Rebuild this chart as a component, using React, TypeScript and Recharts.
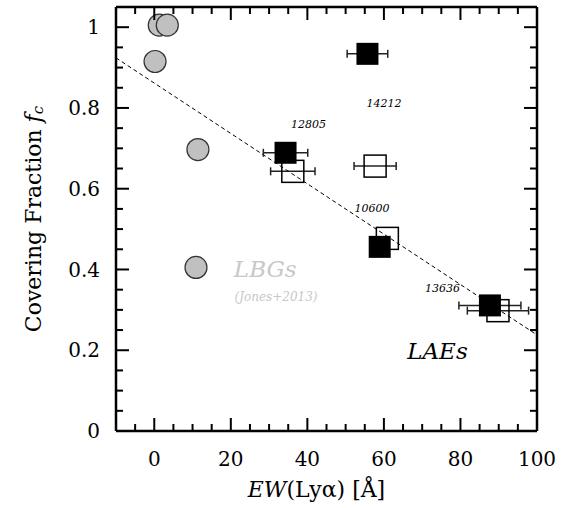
import {
  ScatterChart,
  Scatter,
  XAxis,
  YAxis,
  ErrorBar,
  ReferenceLine,
  Label,
} from 'recharts';

// LBGs from Jones+2013 (grey circles)
const lbgPoints = [
  { ew: 1.3, fc: 1.005 },
  { ew: 3.4, fc: 1.005 },
  { ew: 0.2, fc: 0.915 },
  { ew: 11.4, fc: 0.697 },
  { ew: 10.9, fc: 0.405 },
];

// LAEs, filled squares (ewErr 0 = no bar drawn)
const laeFilled = [
  { id: '14212', ew: 55.7, fc: 0.934, ewErr: 5.3 },
  { id: '12805', ew: 34.3, fc: 0.689, ewErr: 5.8 },
  { id: '10600', ew: 58.9, fc: 0.456, ewErr: 0 },
  { id: '13636', ew: 87.7, fc: 0.311, ewErr: 8.1 },
];

// LAEs, open squares
const laeOpen = [
  { id: '14212', ew: 57.7, fc: 0.656, ewErr: 5.5 },
  { id: '12805', ew: 36.2, fc: 0.643, ewErr: 5.8 },
  { id: '10600', ew: 60.9, fc: 0.477, ewErr: 0 },
  { id: '13636', ew: 89.8, fc: 0.298, ewErr: 8.0 },
];

// dashed linear fit, end points
const fitLine = [
  { ew: -10, fc: 0.924 },
  { ew: 100, fc: 0.238 },
];

const idLabels = [
  { text: '12805', ew: 40.3, fc: 0.76 },
  { text: '14212', ew: 60.0, fc: 0.812 },
  { text: '10600', ew: 56.9, fc: 0.551 },
  { text: '13636', ew: 75.3, fc: 0.352 },
];

const groupLabels = [
  { text: 'LBGs', ew: 29.0, fc: 0.4, size: 23, color: '#c8c8c8' },
  { text: '(Jones+2013)', ew: 31.8, fc: 0.331, size: 12, color: '#c8c8c8' },
  { text: 'LAEs', ew: 74.0, fc: 0.197, size: 23, color: '#000' },
];

const xDomain = [-10, 100];
const yDomain = [0, 1.05];
const xMajorTicks = [0, 20, 40, 60, 80, 100];
const xMinorTicks = [-5, 5, 10, 15, 25, 30, 35, 45, 50, 55, 65, 70, 75, 85, 90, 95];
const yMajorTicks = [0, 0.2, 0.4, 0.6, 0.8, 1];
const yMinorTicks = [0.05, 0.1, 0.15, 0.25, 0.3, 0.35, 0.45, 0.5, 0.55, 0.65, 0.7, 0.75, 0.85, 0.9, 0.95];

const corners = [
  { ew: xDomain[0], fc: yDomain[0] },
  { ew: xDomain[1], fc: yDomain[1] },
];

const W = 565;
const H = 508;
const MARGIN = { top: 0, right: 0, bottom: 0, left: 0 };
const TOP_H = 7;
const RIGHT_W = 28;
const Y_AXIS_W = 116;
const X_AXIS_H = 77;
const MAJOR = 13;
const MINOR = 7;

// inward tick marks: anchored on the frame, drawn a fixed number of px inward
type Tick = { ew: number; fc: number; dx: number; dy: number };
const tickMarks: Tick[] = [];
const addX = (t: number, len: number) => {
  tickMarks.push({ ew: t, fc: yDomain[0], dx: 0, dy: -len });
  tickMarks.push({ ew: t, fc: yDomain[1], dx: 0, dy: len });
};
const addY = (t: number, len: number) => {
  tickMarks.push({ ew: xDomain[0], fc: t, dx: len, dy: 0 });
  tickMarks.push({ ew: xDomain[1], fc: t, dx: -len, dy: 0 });
};
xMajorTicks.forEach((t) => addX(t, MAJOR));
xMinorTicks.forEach((t) => addX(t, MINOR));
yMajorTicks.forEach((t) => addY(t, MAJOR));
yMinorTicks.forEach((t) => addY(t, MINOR));

const FONT = "'DejaVu Serif', 'Liberation Serif', serif";
const frameLine = { stroke: '#000', strokeWidth: 2.5 };
const tickStyle = { fill: '#000', fontSize: 20, style: { fontFamily: FONT } };

const Nothing = () => <g />;
const TickMark = (p: any) => (
  <line
    x1={p.cx}
    y1={p.cy}
    x2={p.cx + p.payload.dx}
    y2={p.cy + p.payload.dy}
    stroke="#000"
    strokeWidth={2}
  />
);
const FilledSquare = (p: any) => (
  <rect x={p.cx - 11} y={p.cy - 11} width={22} height={22} fill="#000" />
);
const OpenSquare = (p: any) => (
  <rect x={p.cx - 11} y={p.cy - 11} width={22} height={22} fill="none" stroke="#000" strokeWidth={1.5} />
);
const GreyCircle = (p: any) => (
  <circle cx={p.cx} cy={p.cy} r={11} fill="#c0c0c0" stroke="#333" strokeWidth={1.2} />
);
const IdText = (p: any) => (
  <text x={p.cx} y={p.cy} textAnchor="middle" dominantBaseline="central" style={{ fontFamily: FONT }} fontStyle="italic" fontSize={11} fill="#000">
    {p.payload.text}
  </text>
);
const GroupText = (p: any) => (
  <text x={p.cx} y={p.cy} textAnchor="middle" dominantBaseline="central" style={{ fontFamily: FONT }} fontStyle="italic" fontSize={p.payload.size} fill={p.payload.color}>
    {p.payload.text}
  </text>
);

const XTitle = (props: any) => {
  const vb = props.viewBox;
  const cx = vb.x + vb.width / 2 - 10;
  return (
    <text x={cx} y={vb.y + 66} textAnchor="middle" style={{ fontFamily: FONT }} fontSize={22} fill="#000">
      <tspan fontStyle="italic">EW</tspan>
      <tspan>(Lyα) [Å]</tspan>
    </text>
  );
};

const YTitle = (props: any) => {
  const vb = props.viewBox;
  const cx = 33;
  const cy = vb.y + vb.height / 2;
  return (
    <text x={cx} y={cy} textAnchor="middle" dominantBaseline="central" transform={`rotate(-90 ${cx} ${cy})`} style={{ fontFamily: FONT }} fontSize={22} fill="#000">
      <tspan>Covering Fraction </tspan>
      <tspan fontStyle="italic">f</tspan>
      <tspan fontStyle="italic" fontSize={15} dy={5}>c</tspan>
    </text>
  );
};

export default function App() {
  return (
    <div style={{ position: 'absolute', left: 0, top: 0, width: W, height: H, background: '#fff' }}>
      <ScatterChart width={W} height={H} margin={MARGIN}>
        <XAxis
          xAxisId="x"
          type="number"
          dataKey="ew"
          domain={xDomain}
          ticks={xMajorTicks}
          interval={0}
          height={X_AXIS_H}
          axisLine={frameLine}
          tickLine={false}
          tickSize={0}
          tickMargin={21}
          tick={tickStyle}
        >
          <Label content={XTitle} />
        </XAxis>
        <XAxis
          xAxisId="xTop"
          orientation="top"
          type="number"
          dataKey="ew"
          domain={xDomain}
          ticks={xMajorTicks}
          height={TOP_H}
          axisLine={frameLine}
          tickLine={false}
          tick={false}
        />
        <YAxis
          yAxisId="y"
          type="number"
          dataKey="fc"
          domain={yDomain}
          ticks={yMajorTicks}
          interval={0}
          width={Y_AXIS_W}
          axisLine={frameLine}
          tickLine={false}
          tickSize={0}
          tickMargin={16}
          tick={tickStyle}
        >
          <Label content={YTitle} />
        </YAxis>
        <YAxis
          yAxisId="yRight"
          orientation="right"
          type="number"
          dataKey="fc"
          domain={yDomain}
          ticks={yMajorTicks}
          width={RIGHT_W}
          axisLine={frameLine}
          tickLine={false}
          tick={false}
        />

        {/* keeps the top/right frame axes drawn */}
        <Scatter xAxisId="xTop" yAxisId="yRight" data={corners} shape={Nothing} isAnimationActive={false} />

        <Scatter xAxisId="x" yAxisId="y" data={lbgPoints} shape={GreyCircle} isAnimationActive={false} />

        <Scatter xAxisId="x" yAxisId="y" data={laeOpen.filter((d) => d.ewErr > 0)} shape={OpenSquare} isAnimationActive={false}>
          <ErrorBar dataKey="ewErr" direction="x" width={4} stroke="#222" strokeWidth={1.5} />
        </Scatter>
        <Scatter xAxisId="x" yAxisId="y" data={laeOpen.filter((d) => d.ewErr === 0)} shape={OpenSquare} isAnimationActive={false} />

        <ReferenceLine
          xAxisId="x"
          yAxisId="y"
          segment={fitLine.map((d) => ({ x: d.ew, y: d.fc }))}
          stroke="#000"
          strokeWidth={1}
          strokeDasharray="4 3"
        />

        <Scatter xAxisId="x" yAxisId="y" data={laeFilled.filter((d) => d.ewErr > 0)} shape={FilledSquare} isAnimationActive={false}>
          <ErrorBar dataKey="ewErr" direction="x" width={4} stroke="#222" strokeWidth={1.5} />
        </Scatter>
        <Scatter xAxisId="x" yAxisId="y" data={laeFilled.filter((d) => d.ewErr === 0)} shape={FilledSquare} isAnimationActive={false} />

        <Scatter xAxisId="x" yAxisId="y" data={idLabels} shape={IdText} isAnimationActive={false} />
        <Scatter xAxisId="x" yAxisId="y" data={groupLabels} shape={GroupText} isAnimationActive={false} />

        <Scatter xAxisId="x" yAxisId="y" data={tickMarks} shape={TickMark} isAnimationActive={false} />
      </ScatterChart>
    </div>
  );
}
